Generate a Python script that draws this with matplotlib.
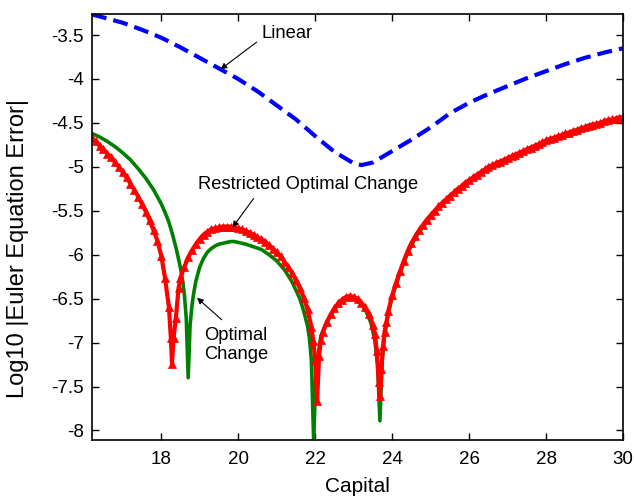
import matplotlib
matplotlib.use('Agg')
import matplotlib.pyplot as plt

plt.rcParams['font.family'] = ['Liberation Sans', 'DejaVu Sans']

# Linear (blue dashed)
lin_k = [16.2, 16.5, 17.0, 17.5, 18.0, 18.5, 19.0, 19.5, 20.0, 20.5, 21.0, 21.5,
         22.0, 22.5, 23.0, 23.2, 23.5, 24.0, 24.5, 25.0, 25.5, 26.0, 26.5, 27.0,
         27.5, 28.0, 28.5, 29.0, 29.5, 30.0]
lin_err = [-3.265, -3.30, -3.36, -3.44, -3.53, -3.64, -3.76, -3.88, -4.00, -4.14, -4.30, -4.46,
           -4.65, -4.83, -4.96, -4.98, -4.95, -4.82, -4.69, -4.55, -4.39, -4.27, -4.17, -4.08,
           -3.99, -3.91, -3.83, -3.76, -3.70, -3.65]

# Optimal Change (green)
opt_k = [16.2, 16.4, 16.6, 16.8, 17.0, 17.2, 17.4, 17.6, 17.8, 18.0, 18.1, 18.2, 18.3, 18.4,
         18.5, 18.55, 18.6, 18.65, 18.7, 18.75, 18.8, 18.85, 18.9, 19.0, 19.1, 19.2, 19.3,
         19.4, 19.5, 19.6, 19.7, 19.8, 19.9, 20.0, 20.2, 20.4, 20.6, 20.8, 21.0, 21.2, 21.4,
         21.6, 21.7, 21.8, 21.85, 21.9, 21.96, 22.02, 22.07, 22.15, 22.3, 22.5, 22.7, 22.9,
         23.1, 23.3, 23.45, 23.55, 23.62, 23.68, 23.74, 23.8, 23.9, 24.0, 24.2, 24.4, 24.6,
         24.8, 25.0, 25.5, 26.0, 26.5, 27.0, 27.5, 28.0, 28.5, 29.0, 29.5, 30.0]
opt_err = [-4.62, -4.66, -4.71, -4.77, -4.84, -4.92, -5.02, -5.13, -5.26, -5.42, -5.52, -5.63, -5.78, -5.95,
           -6.15, -6.28, -6.45, -6.72, -7.40, -6.80, -6.57, -6.42, -6.30, -6.14, -6.04, -5.97, -5.93,
           -5.90, -5.88, -5.87, -5.86, -5.85, -5.85, -5.86, -5.88, -5.91, -5.94, -6.00, -6.07, -6.17, -6.31,
           -6.50, -6.64, -6.81, -6.95, -7.20, -8.12, -7.30, -7.15, -6.92, -6.76, -6.62, -6.52, -6.49,
           -6.52, -6.62, -6.78, -6.98, -7.25, -7.89, -7.20, -6.93, -6.66, -6.48, -6.21, -5.98, -5.81,
           -5.68, -5.57, -5.33, -5.16, -5.01, -4.91, -4.81, -4.71, -4.63, -4.56, -4.49, -4.44]

# Restricted Optimal Change (red, triangles)
res_k = [16.2, 16.3, 16.4, 16.5, 16.6, 16.7, 16.8, 16.9, 17.0, 17.1, 17.2, 17.3, 17.4, 17.5,
         17.6, 17.7, 17.8, 17.9, 18.0, 18.1, 18.2, 18.25, 18.28, 18.32, 18.38, 18.45, 18.5,
         18.6, 18.7, 18.8, 18.9, 19.0, 19.1, 19.2, 19.3, 19.4, 19.5, 19.6, 19.7, 19.8, 19.9,
         20.0, 20.1, 20.2, 20.3, 20.4, 20.5, 20.6, 20.7, 20.8, 20.9, 21.0, 21.1, 21.2, 21.3,
         21.4, 21.5, 21.6, 21.7, 21.8, 21.9, 21.95, 22.0, 22.05, 22.1, 22.15, 22.2, 22.3, 22.4,
         22.5, 22.6, 22.7, 22.8, 22.9, 23.0, 23.1, 23.2, 23.3, 23.4, 23.5, 23.55, 23.6, 23.65,
         23.68, 23.72, 23.76, 23.8, 23.85, 23.9, 24.0, 24.1, 24.2, 24.3, 24.4, 24.5, 24.6, 24.7,
         24.8, 24.9, 25.0, 25.1, 25.2, 25.3, 25.4, 25.5, 25.6, 25.7, 25.8, 25.9, 26.0, 26.1,
         26.2, 26.3, 26.4, 26.5, 26.6, 26.7, 26.8, 26.9, 27.0, 27.1, 27.2, 27.3, 27.4, 27.5,
         27.6, 27.7, 27.8, 27.9, 28.0, 28.1, 28.2, 28.3, 28.4, 28.5, 28.6, 28.7, 28.8, 28.9,
         29.0, 29.1, 29.2, 29.3, 29.4, 29.5, 29.6, 29.7, 29.8, 29.9, 30.0]
res_err = [-4.67, -4.71, -4.76, -4.80, -4.85, -4.89, -4.95, -5.00, -5.06, -5.12, -5.19, -5.26, -5.34, -5.42,
           -5.51, -5.61, -5.72, -5.84, -6.01, -6.27, -6.60, -6.95, -7.24, -6.95, -6.72, -6.38, -6.26,
           -6.14, -6.03, -5.95, -5.88, -5.82, -5.77, -5.74, -5.71, -5.70, -5.69, -5.68, -5.68, -5.68, -5.69,
           -5.70, -5.71, -5.73, -5.75, -5.77, -5.80, -5.82, -5.85, -5.89, -5.93, -5.97, -6.02, -6.08, -6.14,
           -6.21, -6.29, -6.38, -6.49, -6.62, -6.82, -6.98, -7.20, -7.66, -7.15, -6.97, -6.88, -6.77, -6.68,
           -6.61, -6.55, -6.51, -6.48, -6.47, -6.48, -6.50, -6.55, -6.60, -6.68, -6.80, -6.90, -7.10, -7.45,
           -7.61, -7.30, -7.04, -6.88, -6.77, -6.64, -6.46, -6.32, -6.19, -6.07, -5.96, -5.87, -5.79, -5.72,
           -5.66, -5.60, -5.55, -5.50, -5.45, -5.41, -5.37, -5.33, -5.29, -5.25, -5.22, -5.18, -5.15, -5.12,
           -5.09, -5.06, -5.03, -5.00, -4.98, -4.96, -4.94, -4.92, -4.90, -4.88, -4.86, -4.84, -4.82, -4.80,
           -4.78, -4.76, -4.74, -4.72, -4.70, -4.68, -4.67, -4.65, -4.64, -4.62, -4.61, -4.59, -4.58, -4.56,
           -4.55, -4.53, -4.52, -4.51, -4.50, -4.48, -4.47, -4.46, -4.45, -4.44, -4.43]

fig = plt.figure(figsize=(6.34, 4.99), dpi=100)
ax = fig.add_axes([0.145, 0.118, 0.838, 0.854])

ax.plot(lin_k, lin_err, color='#0000ff', lw=3.0, dashes=(3.6, 1.7))
ax.plot(opt_k, opt_err, color='#008000', lw=2.6, solid_capstyle='round')
ax.plot(res_k, res_err, color='#ff0000', lw=3.0, marker='^', ms=6,
        markeredgecolor='#ff0000', markeredgewidth=0.5)

ax.set_xlim(16.2, 30)
ax.set_ylim(-8.11, -3.26)
ax.set_xticks([18, 20, 22, 24, 26, 28, 30])
ax.set_yticks([-8, -7.5, -7, -6.5, -6, -5.5, -5, -4.5, -4, -3.5])
ax.set_yticklabels(['-8', '-7.5', '-7', '-6.5', '-6', '-5.5', '-5', '-4.5', '-4', '-3.5'])
ax.tick_params(direction='in', top=True, right=True, length=5, width=1, labelsize=13.5)
ax.tick_params(axis='x', pad=8)
ax.tick_params(axis='y', pad=6)
for s in ax.spines.values():
    s.set_linewidth(1.2)

ax.set_xlabel('Capital', fontsize=15, labelpad=6)
ax.set_ylabel('Log10 |Euler Equation Error|', fontsize=17)
ax.yaxis.set_label_coords(-0.118, 0.45)

arrow = dict(arrowstyle='-|>', color='black', lw=0.8, mutation_scale=9, shrinkA=0, shrinkB=0)
ax.annotate('', xy=(19.54, -3.89), xytext=(20.48, -3.58), arrowprops=arrow)
ax.text(20.61, -3.477, 'Linear', fontsize=13.2, ha='left', va='center')
ax.annotate('', xy=(19.85, -5.69), xytext=(20.40, -5.36), arrowprops=arrow)
ax.text(21.81, -5.205, 'Restricted Optimal Change', fontsize=13.2, ha='center', va='center')
ax.annotate('', xy=(18.93, -6.49), xytext=(19.57, -6.74), arrowprops=arrow)
ax.text(19.12, -7.03, 'Optimal\nChange', fontsize=13.2, ha='left', va='center', linespacing=1.15)

fig.savefig('out.png', dpi=100)
